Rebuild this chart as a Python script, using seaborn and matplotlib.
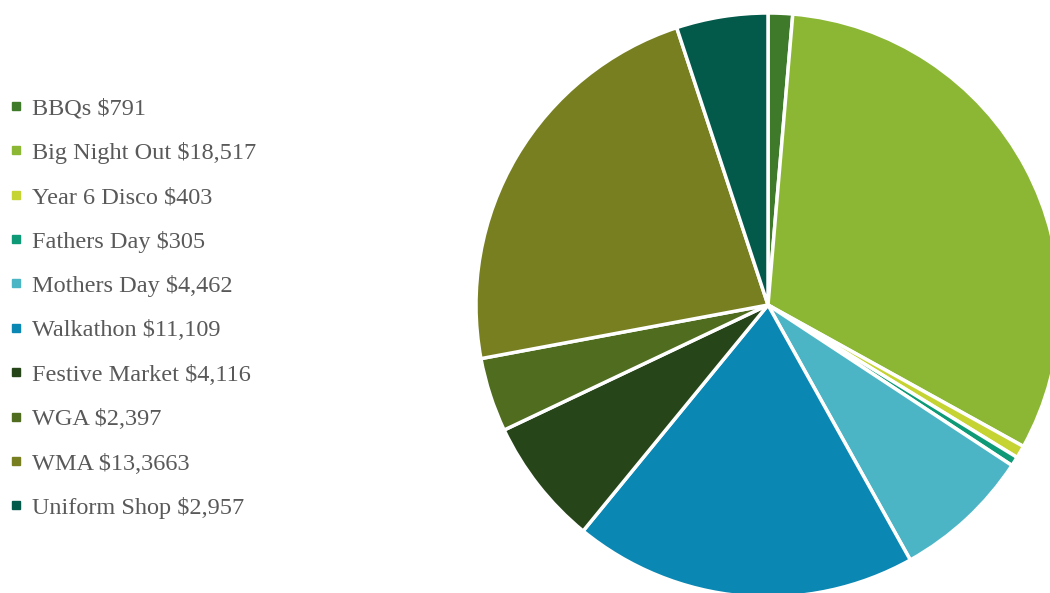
import matplotlib
matplotlib.use('Agg')
import matplotlib.pyplot as plt
from matplotlib.lines import Line2D
import seaborn as sns

events = ['BBQs', 'Big Night Out', 'Year 6 Disco', 'Fathers Day', 'Mothers Day',
          'Walkathon', 'Festive Market', 'WGA', 'WMA', 'Uniform Shop']
amounts = [791, 18517, 403, 305, 4462, 11109, 4116, 2397, 13366, 2957]
amount_labels = ['$791', '$18,517', '$403', '$305', '$4,462',
                 '$11,109', '$4,116', '$2,397', '$13,3663', '$2,957']
colors = ['#3F7A2B', '#8BB734', '#C5D333', '#0E9A77', '#4BB5C5',
          '#0B87B3', '#26461A', '#4F6C1F', '#787F20', '#03594A']

sns.set_style('white')
plt.rcParams['font.family'] = ['Liberation Serif', 'DejaVu Serif']

fig = plt.figure(figsize=(10.5, 5.93), dpi=100)
# pie centred at (768, 305) px, radius ~292 px
ax = fig.add_axes([476 / 1050, -4 / 593, 584 / 1050, 584 / 593])
ax.pie(amounts, colors=colors, startangle=90, counterclock=False, radius=1,
       wedgeprops=dict(edgecolor='white', linewidth=2.5))
ax.set_xlim(-1, 1)
ax.set_ylim(-1, 1)
ax.set_aspect('equal')
ax.axis('off')

handles = [Line2D([], [], marker='s', linestyle='none', markersize=6,
                  markerfacecolor=c, markeredgecolor=c) for c in colors]
labels = [f'{e} {a}' for e, a in zip(events, amount_labels)]
fig.legend(handles, labels, loc='upper left', bbox_to_anchor=(0.0, 0.852),
           frameon=False, fontsize=17.5, labelcolor='#595959',
           handlelength=0.55, handletextpad=0.35, labelspacing=0.92,
           borderaxespad=0)

fig.savefig('out.png', dpi=100)
